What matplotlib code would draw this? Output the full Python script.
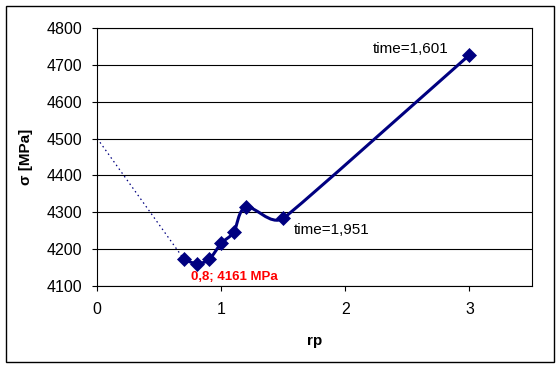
import numpy as np
import matplotlib
matplotlib.use("Agg")
import matplotlib.pyplot as plt
from matplotlib.path import Path
from matplotlib.patches import PathPatch, Rectangle

plt.rcParams["font.family"] = ["Liberation Sans", "DejaVu Sans"]

# data
rp = [0.7, 0.8, 0.9, 1.0, 1.1, 1.2, 1.5, 3.0]
sigma = [4172, 4161, 4172, 4216, 4246, 4314, 4284, 4727]
extrap_rp = [0.0, 0.7]
extrap_sigma = [4500, 4172]

YTICKS = [4100, 4200, 4300, 4400, 4500, 4600, 4700, 4800]
XTICKS = [0, 1, 2, 3]

NAVY = "#000080"

fig = plt.figure(figsize=(5.6, 3.67), dpi=100)
ax = fig.add_axes([97.3 / 560, (367 - 286) / 367, 434.2 / 560, 258 / 367])

ax.set_xlim(0, 3.5)
ax.set_ylim(4100, 4800)
ax.set_xticks(XTICKS)
ax.set_yticks(YTICKS)
ax.set_xticklabels([str(t) for t in XTICKS])
ax.tick_params(direction="out", length=3.6, width=0.8, labelsize=11.5, colors="black")
ax.tick_params(axis="y", pad=7)
ax.tick_params(axis="x", pad=8)
ax.yaxis.grid(True, color="black", linewidth=0.8)
ax.set_axisbelow(True)
for sp in ax.spines.values():
    sp.set_color("black")
    sp.set_linewidth(0.8)

# dotted extrapolation to rp=0
ax.plot(extrap_rp, extrap_sigma, color=NAVY, linewidth=0.9, linestyle=(0, (1.2, 2.5)))

# smoothed line (Excel style), bezier built in display space
pts = ax.transData.transform(np.column_stack([rp, sigma]))
n = len(pts)
segs = [np.hypot(*(pts[j + 1] - pts[j])) for j in range(n - 1)]
verts = [pts[0]]
codes = [Path.MOVETO]
k = 0.4
for i in range(n - 1):
    a, b = pts[i], pts[i + 1]
    ta = pts[min(i + 1, n - 1)] - pts[max(i - 1, 0)]
    tb = pts[min(i + 2, n - 1)] - pts[i]
    near_a = min(segs[i], segs[i - 1]) if i > 0 else segs[i]
    near_b = min(segs[i], segs[i + 1]) if i + 1 < n - 1 else segs[i]
    la = min(np.hypot(*ta) / 6, near_a * k)
    lb = min(np.hypot(*tb) / 6, near_b * k)
    ta = ta / np.hypot(*ta)
    tb = tb / np.hypot(*tb)
    verts += [a + ta * la, b - tb * lb, b]
    codes += [Path.CURVE4] * 3
verts = ax.transData.inverted().transform(np.array(verts))
ax.add_patch(PathPatch(Path(verts, codes), facecolor="none", edgecolor=NAVY,
                       linewidth=2.2, capstyle="round", joinstyle="round"))

ax.plot(rp, sigma, linestyle="none", marker="D", markersize=6.8,
        color=NAVY, markeredgewidth=0.5)

ax.annotate("time=1,601", xy=(rp[-1], sigma[-1]), xytext=(-69.3, 4.2),
            textcoords="offset points", ha="left", va="center", fontsize=11)
ax.annotate("time=1,951", xy=(rp[6], sigma[6]), xytext=(7.2, -8.5),
            textcoords="offset points", ha="left", va="center", fontsize=11)
ax.annotate("0,8; 4161 MPa", xy=(rp[1], sigma[1]), xytext=(-4, -9.4),
            textcoords="offset points", ha="left", va="center", fontsize=9.5,
            fontweight="bold", color="red")

ax.set_xlabel("rp", fontsize=11, fontweight="bold", labelpad=12)
ax.set_ylabel("σ [MPa]", fontsize=11, fontweight="bold", labelpad=10)

fig.patches.append(Rectangle((5.5 / 560, 1 - 362 / 367), 548.5 / 560, 356.5 / 367,
                             transform=fig.transFigure, fill=False,
                             edgecolor="black", linewidth=1.0))

fig.savefig("out.png", dpi=100)
